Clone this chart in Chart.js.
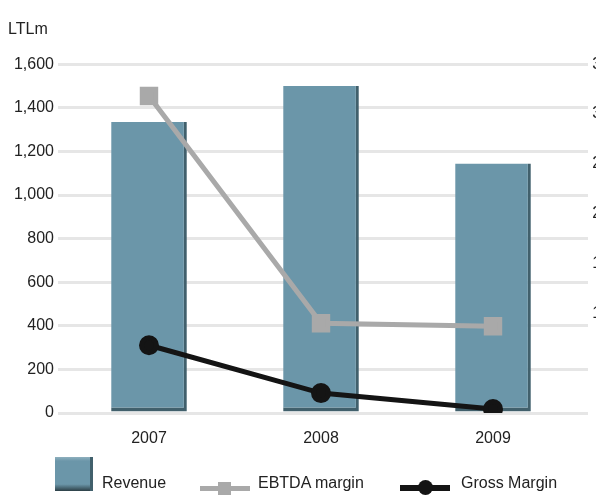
<!DOCTYPE html>
<html>
<head>
<meta charset="utf-8">
<script src="https://cdn.jsdelivr.net/npm/chart.js@4/dist/chart.umd.min.js"></script>
<style>
  html, body { margin: 0; padding: 0; background: #fff; overflow: hidden; }
  #wrap { position: relative; width: 596px; height: 497px; }
  #legend { position: absolute; left: 0; top: 0; width: 596px; height: 497px; pointer-events: none;
            font-family: "Liberation Sans", Arial, sans-serif; font-size: 16px; color: #222; }
  .lg { position: absolute; }
</style>
</head>
<body>
<div id="wrap">
  <canvas id="chart" width="596" height="497"></canvas>
  <div id="legend"></div>
</div>
<script>
const years = ['2007', '2008', '2009']
const revenue = [1335, 1500, 1145]
const ebtdaMargin = [31.8, 9.0, 8.7]
const grossMargin = [6.8, 2.0, 0.4]
const seriesNames = ['Revenue', 'EBTDA margin', 'Gross Margin']

const barColor = '#6b96a9'
const barEdge = '#41606c'
const ebtdaColor = '#a9a9a9'
const grossColor = '#141414'
const gridColor = '#e6e6e6'
const textColor = '#222'
const font = {family: '"Liberation Sans", Arial, sans-serif', size: 16}

// grid lines of the left axis run a little past the plot on the right
const gridTail = {
  id: 'gridTail',
  beforeDatasetsDraw(chart){
    const {ctx, chartArea} = chart
    const y = chart.scales.y
    ctx.save()
    ctx.strokeStyle = gridColor
    ctx.lineWidth = 3
    y.ticks.forEach((t) => {
      const py = Math.round(y.getPixelForValue(t.value) - 1.5) + 1.5
      ctx.beginPath()
      ctx.moveTo(chartArea.right, py)
      ctx.lineTo(chartArea.right + 9, py)
      ctx.stroke()
    })
    ctx.restore()
  }
}

const data = {
  labels: years,
  datasets: [
    {
      type: 'line',
      label: seriesNames[2],
      data: grossMargin,
      yAxisID: 'y1',
      borderColor: grossColor,
      backgroundColor: grossColor,
      borderWidth: 5,
      pointStyle: 'circle',
      pointRadius: 7.5,
      tension: 0,
      order: 1
    },
    {
      type: 'line',
      label: seriesNames[1],
      data: ebtdaMargin,
      yAxisID: 'y1',
      borderColor: ebtdaColor,
      backgroundColor: ebtdaColor,
      borderWidth: 5,
      pointStyle: 'rect',
      pointRadius: 9.5,
      tension: 0,
      order: 2
    },
    {
      type: 'bar',
      label: seriesNames[0],
      data: revenue,
      yAxisID: 'y',
      backgroundColor: barColor,
      borderColor: barEdge,
      borderWidth: {top: 0, left: 0, right: 3, bottom: 4},
      borderSkipped: false,
      categoryPercentage: 1,
      barPercentage: 0.44,
      order: 3
    }
  ]
}

const config = {
  data: data,
  plugins: [gridTail],
  options: {
    responsive: false,
    animation: false,
    // right padding is negative so the right axis labels run past the canvas edge
    layout: {padding: {left: 8, right: -14, top: 0, bottom: 54}},
    plugins: {
      legend: {display: false},
      tooltip: {enabled: false},
      title: {
        display: true,
        text: 'LTLm',
        align: 'start',
        color: textColor,
        font: {family: font.family, size: 16, weight: 'normal', lineHeight: 1.2},
        padding: {top: 20, bottom: 25}
      }
    },
    scales: {
      x: {
        offset: true,
        grid: {display: false},
        border: {display: false},
        ticks: {color: textColor, font: font, padding: 8},
        afterFit: (s) => { s.height = 30 }
      },
      y: {
        position: 'left',
        min: 0,
        max: 1600,
        ticks: {stepSize: 200, color: textColor, font: font, padding: 4},
        grid: {color: gridColor, lineWidth: 3, drawTicks: true, tickLength: 5, tickColor: gridColor},
        border: {display: false},
        afterFit: (s) => { s.width = 55 }
      },
      y1: {
        position: 'right',
        min: 0,
        max: 35,
        ticks: {stepSize: 5, color: textColor, font: font, padding: 13, crossAlign: 'far'},
        grid: {display: false, drawOnChartArea: false, drawTicks: false},
        border: {display: false},
        afterFit: (s) => { s.width = 31 }
      }
    }
  }
}

const chart = new Chart(document.getElementById('chart'), config)

// legend below the plot
const legend = document.getElementById('legend')
function add(html, style){
  const d = document.createElement('div')
  d.className = 'lg'
  Object.assign(d.style, style)
  d.innerHTML = html
  legend.appendChild(d)
}
add('', {left: '55px', top: '457px', width: '35px', height: '34px',
  background: 'linear-gradient(to bottom, #8fb0be 0%, ' + barColor + ' 12%, ' + barColor + ' 80%, #2c3f46 100%)',
  borderRight: '3px solid ' + barEdge})
add(seriesNames[0], {left: '102px', top: '474px'})
add('', {left: '200px', top: '486px', width: '50px', height: '5px', background: ebtdaColor})
add('', {left: '218px', top: '482px', width: '13px', height: '13px', background: ebtdaColor})
add(seriesNames[1], {left: '258px', top: '474px'})
add('', {left: '400px', top: '485px', width: '50px', height: '6px', background: grossColor})
add('', {left: '418px', top: '480px', width: '15px', height: '15px', borderRadius: '50%', background: grossColor})
add(seriesNames[2], {left: '461px', top: '474px'})
</script>
</body>
</html>
